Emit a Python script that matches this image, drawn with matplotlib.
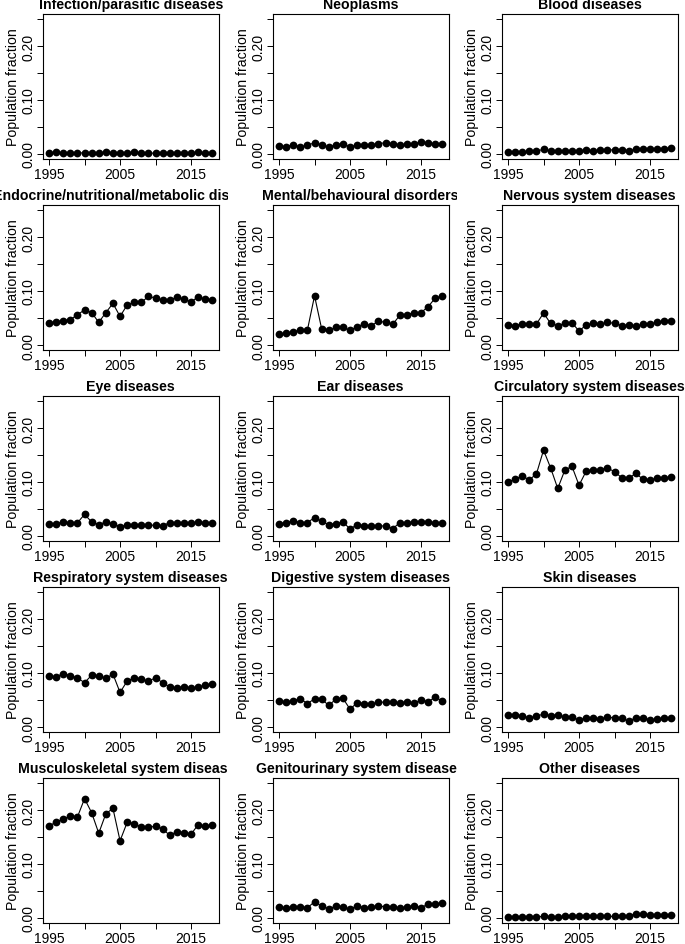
import matplotlib
matplotlib.use("Agg")
import matplotlib.pyplot as plt
from matplotlib.transforms import Bbox, TransformedBbox

plt.rcParams["font.family"] = ["Liberation Sans", "DejaVu Sans"]

# Data
years = [1995, 1996, 1997, 1998, 1999, 2000, 2001, 2002, 2003, 2004, 2005, 2006,
         2007, 2008, 2009, 2010, 2011, 2012, 2013, 2014, 2015, 2016, 2017, 2018]

infection = [0.002, 0.003, 0.002, 0.002, 0.002, 0.002, 0.002, 0.002, 0.003, 0.002, 0.002, 0.002,
             0.003, 0.002, 0.001, 0.002, 0.002, 0.002, 0.002, 0.002, 0.002, 0.003, 0.002, 0.002]
neoplasms = [0.015, 0.0135, 0.017, 0.0135, 0.016, 0.021, 0.017, 0.013, 0.017, 0.019, 0.013, 0.017,
             0.016, 0.017, 0.019, 0.021, 0.019, 0.017, 0.018, 0.018, 0.023, 0.020, 0.019, 0.019]
blood = [0.004, 0.003, 0.004, 0.005, 0.005, 0.009, 0.0055, 0.005, 0.006, 0.006, 0.005, 0.008,
         0.0055, 0.007, 0.007, 0.008, 0.008, 0.006, 0.0085, 0.0085, 0.009, 0.010, 0.010, 0.011]
endocrine = [0.041, 0.043, 0.045, 0.047, 0.056, 0.065, 0.060, 0.042, 0.060, 0.077, 0.053, 0.074,
             0.079, 0.079, 0.090, 0.087, 0.083, 0.084, 0.088, 0.085, 0.080, 0.089, 0.085, 0.083]
mental = [0.020, 0.0215, 0.025, 0.027, 0.028, 0.091, 0.030, 0.027, 0.0325, 0.0325, 0.027, 0.034,
          0.039, 0.036, 0.044, 0.042, 0.038, 0.055, 0.056, 0.060, 0.060, 0.071, 0.087, 0.090]
nervous = [0.037, 0.036, 0.039, 0.038, 0.039, 0.059, 0.040, 0.036, 0.040, 0.041, 0.026, 0.037,
           0.040, 0.038, 0.042, 0.040, 0.036, 0.037, 0.035, 0.038, 0.039, 0.042, 0.044, 0.044]
eye = [0.023, 0.023, 0.026, 0.0245, 0.0245, 0.040, 0.026, 0.021, 0.026, 0.023, 0.017, 0.021,
       0.021, 0.021, 0.020, 0.020, 0.019, 0.025, 0.025, 0.024, 0.024, 0.026, 0.0245, 0.0245]
ear = [0.023, 0.0245, 0.028, 0.025, 0.025, 0.034, 0.027, 0.021, 0.023, 0.026, 0.013, 0.021,
       0.019, 0.019, 0.018, 0.019, 0.0135, 0.0245, 0.0245, 0.026, 0.026, 0.026, 0.0245, 0.0245]
circulatory = [0.1005, 0.105, 0.111, 0.104, 0.115, 0.159, 0.126, 0.088, 0.122, 0.129, 0.094, 0.120,
               0.122, 0.123, 0.126, 0.119, 0.108, 0.107, 0.116, 0.105, 0.104, 0.107, 0.107, 0.109]
respiratory = [0.094, 0.093, 0.099, 0.095, 0.091, 0.082, 0.096, 0.0945, 0.090, 0.098, 0.064, 0.085,
               0.091, 0.088, 0.085, 0.091, 0.082, 0.074, 0.072, 0.075, 0.072, 0.074, 0.077, 0.079]
digestive = [0.049, 0.046, 0.049, 0.052, 0.0435, 0.052, 0.0515, 0.040, 0.0515, 0.053, 0.033, 0.045,
             0.043, 0.042, 0.046, 0.046, 0.046, 0.044, 0.047, 0.044, 0.050, 0.047, 0.055, 0.048]
skin = [0.0215, 0.023, 0.020, 0.017, 0.020, 0.024, 0.021, 0.023, 0.018, 0.018, 0.013, 0.017,
        0.0165, 0.015, 0.018, 0.017, 0.016, 0.011, 0.017, 0.017, 0.0135, 0.014, 0.0165, 0.0165]
musculoskeletal = [0.170, 0.178, 0.183, 0.189, 0.187, 0.221, 0.195, 0.157, 0.193, 0.203, 0.143, 0.177,
                   0.175, 0.168, 0.168, 0.170, 0.165, 0.153, 0.160, 0.158, 0.155, 0.173, 0.170, 0.172]
genitourinary = [0.020, 0.018, 0.021, 0.021, 0.019, 0.030, 0.022, 0.017, 0.022, 0.021, 0.016, 0.023,
                 0.019, 0.020, 0.022, 0.021, 0.020, 0.019, 0.020, 0.023, 0.019, 0.026, 0.026, 0.027]
other = [0.001, 0.001, 0.001, 0.002, 0.002, 0.003, 0.002, 0.002, 0.003, 0.004, 0.003, 0.003,
         0.003, 0.003, 0.003, 0.003, 0.004, 0.004, 0.008, 0.007, 0.006, 0.006, 0.005, 0.005]

titles = ["Infection/parasitic diseases", "Neoplasms", "Blood diseases",
          "Endocrine/nutritional/metabolic diseases", "Mental/behavioural disorders",
          "Nervous system diseases",
          "Eye diseases", "Ear diseases", "Circulatory system diseases",
          "Respiratory system diseases", "Digestive system diseases", "Skin diseases",
          "Musculoskeletal system diseases", "Genitourinary system diseases", "Other diseases"]
series = [infection, neoplasms, blood, endocrine, mental, nervous, eye, ear, circulatory,
          respiratory, digestive, skin, musculoskeletal, genitourinary, other]

y_ticks = [0.0, 0.05, 0.10, 0.15, 0.20, 0.25]
y_labels = ["0.00", "", "0.10", "", "0.20", ""]
x_ticks = [1995, 2000, 2005, 2010, 2015]
x_labels = ["1995", "", "2005", "", "2015"]

# Layout in pixels
W, H = 685, 945
col_left = [42.5, 272.5, 501.5]
box_w, box_h = 176.4, 145.8
top0, pitch = 14.6, 191.0

fig = plt.figure(figsize=(W / 100, H / 100), dpi=100)

for i, (title, vals) in enumerate(zip(titles, series)):
    r, c = divmod(i, 3)
    top = top0 + r * pitch
    ax = fig.add_axes([col_left[c] / W, 1 - (top + box_h) / H, box_w / W, box_h / H])
    ax.plot(years, vals, color="black", lw=0.8, marker="o", ms=5.6, mew=0)

    ax.set_xlim(1995 - 0.92, 2018 + 0.92)
    ax.set_ylim(-0.01, 0.26)
    ax.set_xticks(x_ticks, x_labels)
    ax.set_yticks(y_ticks, y_labels)
    ax.tick_params(axis="both", length=4.3, width=0.7, labelsize=10, color="black")
    ax.tick_params(axis="x", pad=1.5)
    ax.tick_params(axis="y", pad=1.0, labelrotation=90)
    for lab in ax.get_yticklabels():
        lab.set_va("center")
    for sp in ax.spines.values():
        sp.set_linewidth(0.8)

    ax.set_ylabel("Population fraction", fontsize=10.2)
    ax.yaxis.set_label_coords(-0.128, 0.5)

    t = ax.set_title(title, fontsize=10.2, fontweight="bold", pad=3.8)
    # clip the title to its panel's column, as R does
    x0 = c * W / 3
    clip = TransformedBbox(Bbox.from_extents(x0 / W, 0, (x0 + W / 3) / W, 1), fig.transFigure)
    t.set_clip_box(clip)
    t.set_clip_on(True)

fig.savefig("out.png", dpi=100)
